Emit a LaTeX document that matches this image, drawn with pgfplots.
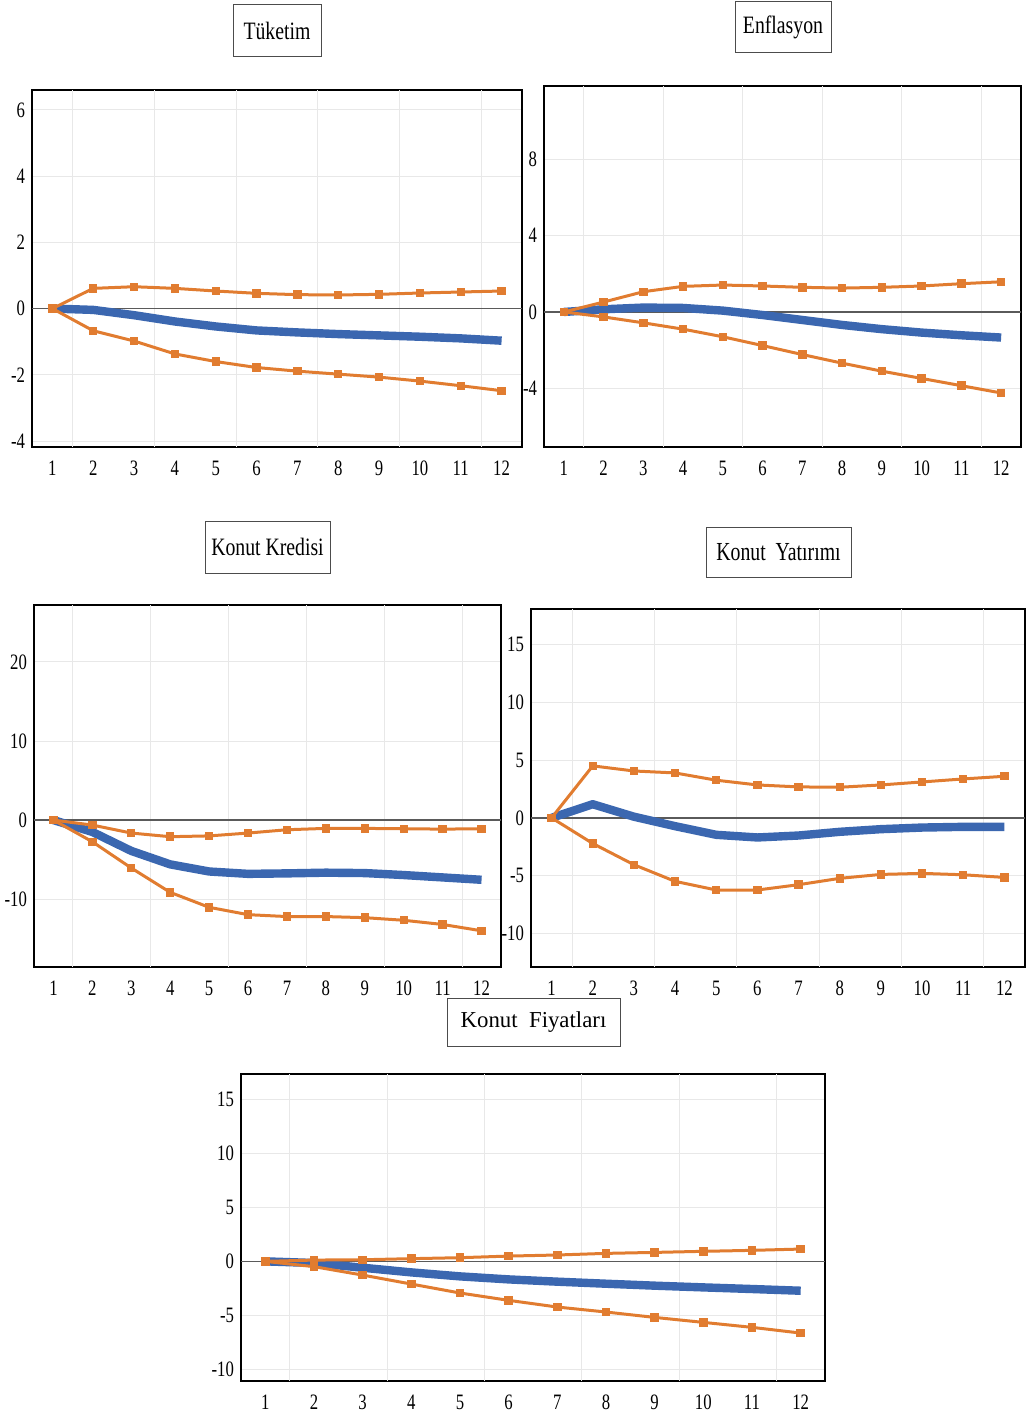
\documentclass[border=0pt]{standalone}
\usepackage{fontspec}
\setmainfont{Liberation Serif}
\usepackage{graphicx}
\usepackage{pgfplots}
\pgfplotsset{compat=1.18}
\definecolor{bl}{RGB}{59,103,176}
\definecolor{orc}{RGB}{225,124,48}
\definecolor{gridc}{RGB}{232,232,232}
\definecolor{zeroc}{RGB}{90,90,90}
\pgfplotsset{irf/.style={
  scale only axis, anchor=south west,
  xmin=0.5, xmax=12.5,
  xtick={1,...,12},
  axis line style={black, line width=0.8pt},
  major tick length=0pt,
  ymajorgrids, major grid style={gridc, line width=0.5pt},
  extra x ticks={1.5,3.5,5.5,7.5,9.5,11.5},
  extra x tick style={xmajorgrids=true, major tick length=0pt, xticklabel={}},
  xticklabel={\scalebox{0.76}[1]{\pgfmathprintnumber[assume math mode=true]{\tick}}},
  yticklabel={\scalebox{0.76}[1]{\pgfmathprintnumber[assume math mode=true]{\tick}}},
  ticklabel style={font=\fontsize{11}{13}\selectfont},
  xticklabel style={yshift=-3.5pt},
},
zl/.style={zeroc, line width=0.7pt, forget plot},
mid/.style={bl, line width=4.2pt, no marks, line join=round},
band/.style={orc, line width=1.5pt, mark=square*, mark size=1.35pt, mark options={solid, fill=orc}},
}
\tikzset{ttl/.style={draw=black!70, line width=0.5pt, inner sep=0pt}}
\begin{document}
\begin{tikzpicture}
\useasboundingbox (0,0) rectangle (514pt,-706.5pt);
% Panel 1
\begin{axis}[irf, at={(16pt,-223.5pt)}, width=245pt, height=178.5pt,
  ymin=-4.18, ymax=6.6, ytick={-4,-2,0,2,4,6}]
\addplot[zl] coordinates {(0.5,0) (12.5,0)};
\addplot[mid] coordinates {(1,0) (2,-0.04) (3,-0.2) (4,-0.39) (5,-0.54) (6,-0.66) (7,-0.72) (8,-0.77) (9,-0.81) (10,-0.85) (11,-0.9) (12,-0.97)};
\addplot[band] coordinates {(1,0) (2,0.61) (3,0.66) (4,0.61) (5,0.53) (6,0.46) (7,0.42) (8,0.41) (9,0.43) (10,0.47) (11,0.5) (12,0.53)};
\addplot[band] coordinates {(1,0) (2,-0.67) (3,-0.98) (4,-1.37) (5,-1.6) (6,-1.78) (7,-1.89) (8,-1.98) (9,-2.07) (10,-2.19) (11,-2.33) (12,-2.48)};
\end{axis}
% Panel 2
\begin{axis}[irf, at={(272pt,-223.5pt)}, width=238.5pt, height=180.5pt,
  ymin=-7.07, ymax=11.83, ytick={-4,0,4,8}]
\addplot[zl] coordinates {(0.5,0) (12.5,0)};
\addplot[mid] coordinates {(1,0) (2,0.14) (3,0.23) (4,0.21) (5,0.07) (6,-0.16) (7,-0.42) (8,-0.68) (9,-0.9) (10,-1.08) (11,-1.22) (12,-1.34)};
\addplot[band] coordinates {(1,0) (2,0.52) (3,1.06) (4,1.34) (5,1.41) (6,1.36) (7,1.29) (8,1.25) (9,1.29) (10,1.36) (11,1.48) (12,1.58)};
\addplot[band] coordinates {(1,0) (2,-0.26) (3,-0.57) (4,-0.9) (5,-1.3) (6,-1.76) (7,-2.23) (8,-2.68) (9,-3.1) (10,-3.48) (11,-3.86) (12,-4.24)};
\end{axis}
% Panel 3
\begin{axis}[irf, at={(17pt,-483.5pt)}, width=233.5pt, height=181pt,
  ymin=-18.58, ymax=27.2, ytick={-10,0,10,20}]
\addplot[zl] coordinates {(0.5,0) (12.5,0)};
\addplot[mid] coordinates {(1,0) (2,-1.5) (3,-3.9) (4,-5.6) (5,-6.5) (6,-6.8) (7,-6.74) (8,-6.65) (9,-6.7) (10,-6.95) (11,-7.25) (12,-7.55)};
\addplot[band] coordinates {(1,0) (2,-0.63) (3,-1.64) (4,-2.1) (5,-2.0) (6,-1.64) (7,-1.22) (8,-1.05) (9,-1.05) (10,-1.1) (11,-1.14) (12,-1.1)};
\addplot[band] coordinates {(1,0) (2,-2.74) (3,-6.06) (4,-9.14) (5,-11.03) (6,-11.96) (7,-12.2) (8,-12.2) (9,-12.34) (10,-12.67) (11,-13.2) (12,-14.0)};
\end{axis}
% Panel 4
\begin{axis}[irf, at={(265.5pt,-483.5pt)}, width=247pt, height=179pt,
  ymin=-12.92, ymax=18.09, ytick={-10,-5,0,5,10,15}]
\addplot[zl] coordinates {(0.5,0) (12.5,0)};
\addplot[mid] coordinates {(1,0) (2,1.18) (3,0.1) (4,-0.72) (5,-1.47) (6,-1.7) (7,-1.53) (8,-1.21) (9,-0.98) (10,-0.84) (11,-0.78) (12,-0.78)};
\addplot[band] coordinates {(1,0) (2,4.5) (3,4.06) (4,3.89) (5,3.26) (6,2.85) (7,2.68) (8,2.65) (9,2.85) (10,3.11) (11,3.37) (12,3.6)};
\addplot[band] coordinates {(1,0) (2,-2.22) (3,-4.06) (4,-5.5) (5,-6.25) (6,-6.25) (7,-5.79) (8,-5.24) (9,-4.9) (10,-4.81) (11,-4.93) (12,-5.16)};
\end{axis}
% Panel 5
\begin{axis}[irf, at={(120.5pt,-690.5pt)}, width=292pt, height=153.5pt,
  ymin=-11.08, ymax=17.35, ytick={-10,-5,0,5,10,15}]
\addplot[zl] coordinates {(0.5,0) (12.5,0)};
\addplot[mid] coordinates {(1,0) (2,-0.15) (3,-0.59) (4,-1.02) (5,-1.39) (6,-1.67) (7,-1.88) (8,-2.07) (9,-2.25) (10,-2.41) (11,-2.56) (12,-2.72)};
\addplot[band] coordinates {(1,0) (2,0.12) (3,0.15) (4,0.25) (5,0.34) (6,0.49) (7,0.59) (8,0.74) (9,0.83) (10,0.93) (11,1.02) (12,1.14)};
\addplot[band] coordinates {(1,0) (2,-0.49) (3,-1.27) (4,-2.1) (5,-2.93) (6,-3.61) (7,-4.23) (8,-4.69) (9,-5.19) (10,-5.65) (11,-6.11) (12,-6.64)};
\end{axis}
% Titles
\node[ttl, minimum width=44pt, minimum height=26pt, font=\fontsize{12.5}{14}\selectfont] at (138.5pt,-15.5pt) {\scalebox{0.79}[1]{Tüketim}};
\node[ttl, minimum width=48pt, minimum height=25.5pt, font=\fontsize{12.5}{14}\selectfont] at (391.5pt,-13.75pt) {\scalebox{0.79}[1]{Enflasyon}};
\node[ttl, minimum width=62.5pt, minimum height=26pt, font=\fontsize{12.5}{14}\selectfont] at (133.75pt,-273.5pt) {\scalebox{0.79}[1]{Konut Kredisi}};
\node[ttl, minimum width=72.5pt, minimum height=25pt, font=\fontsize{13}{15}\selectfont] at (389.25pt,-276pt) {\scalebox{0.76}[1]{Konut\ \ Yatırımı}};
\node[ttl, minimum width=86.5pt, minimum height=24pt, font=\fontsize{11.4}{13}\selectfont] at (266.75pt,-511pt) {Konut\ \ Fiyatları};
\end{tikzpicture}
\end{document}
